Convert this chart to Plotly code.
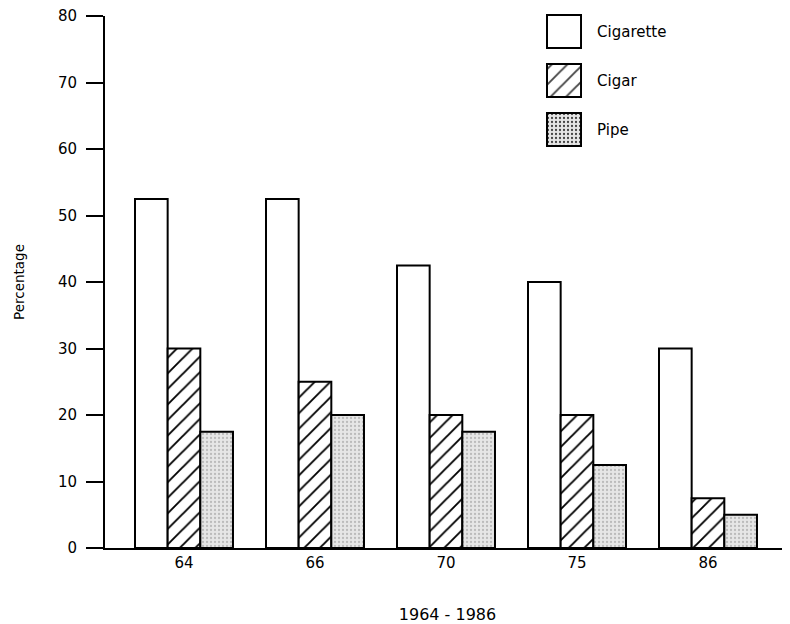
import plotly.graph_objects as go

years = ["64", "66", "70", "75", "86"]
cigarette = [52.5, 52.5, 42.5, 40, 30]
cigar = [30, 25, 20, 20, 7.5]
pipe = [17.5, 20, 17.5, 12.5, 5]

legend_names = ["Cigarette", "Cigar", "Pipe"]
y_ticks = [0, 10, 20, 30, 40, 50, 60, 70, 80]

FONT = "DejaVu Sans"
LINE = dict(color="black", width=2)

fig = go.Figure()

fig.add_trace(go.Bar(
    x=years, y=cigarette, name="Cigarette",
    marker=dict(color="white", line=LINE),
))
fig.add_trace(go.Bar(
    x=years, y=cigar, name="Cigar",
    marker=dict(color="white", line=LINE,
                pattern=dict(shape="/", fgcolor="black", bgcolor="white",
                             fgopacity=1, size=11, solidity=0.17)),
))
fig.add_trace(go.Bar(
    x=years, y=pipe, name="Pipe",
    marker=dict(color="#e4e4e4", line=LINE,
                pattern=dict(shape=".", fgcolor="#8f8f8f", bgcolor="#e6e6e6",
                             size=4, solidity=0.25)),
))

# legend drawn as boxes on an overlay axis
fig.add_trace(go.Bar(
    x=[1, 1, 1], y=legend_names, orientation="h",
    xaxis="x2", yaxis="y2", width=0.673, showlegend=False,
    marker=dict(
        color=["white", "white", "#e6e6e6"],
        line=LINE,
        pattern=dict(shape=["", "/", "."],
                     fgcolor=["black", "black", "#8f8f8f"],
                     bgcolor=["white", "white", "#e6e6e6"],
                     fgopacity=1,
                     size=[8, 11, 4], solidity=[0.1, 0.17, 0.25]),
    ),
    hoverinfo="skip",
))

fig.update_layout(
    width=782, height=616,
    margin=dict(l=97, r=0, t=0, b=76, autoexpand=False),
    paper_bgcolor="white", plot_bgcolor="white",
    barmode="group", bargap=0.252, bargroupgap=0,
    showlegend=False,
    font=dict(family=FONT, size=15, color="black"),
    xaxis=dict(
        type="category", range=[-0.603, 4.626], automargin=False,
        showline=True, linecolor="black", linewidth=2,
        ticks="", showgrid=False, zeroline=False,
        tickfont=dict(size=15), ticklabelstandoff=0,
        title=dict(text="1964 - 1986", font=dict(size=16), standoff=38),
    ),
    yaxis=dict(
        domain=[0, 532 / 540], automargin=False,
        range=[0, 80], tickvals=y_ticks, ticklabeloverflow="allow",
        showline=True, linecolor="black", linewidth=2,
        ticks="outside", ticklen=17, tickwidth=2, tickcolor="black",
        showgrid=False, zeroline=False,
        tickfont=dict(size=15), ticklabelstandoff=6,
        title=dict(text="Percentage", font=dict(size=13.5), standoff=30),
    ),
    xaxis2=dict(
        domain=[0.6438, 0.6964], range=[-1/34, 35/34], anchor="y2",
        visible=False, showgrid=False, zeroline=False, automargin=False,
    ),
    yaxis2=dict(
        domain=[(540 - 146) / 540, 1], range=[2.5, -0.4796], anchor="x2",
        type="category", side="right", showline=False, showgrid=False,
        zeroline=False, ticks="", ticklabelstandoff=14, automargin=False,
        tickfont=dict(size=15),
    ),
)

fig.write_html("out.html")
